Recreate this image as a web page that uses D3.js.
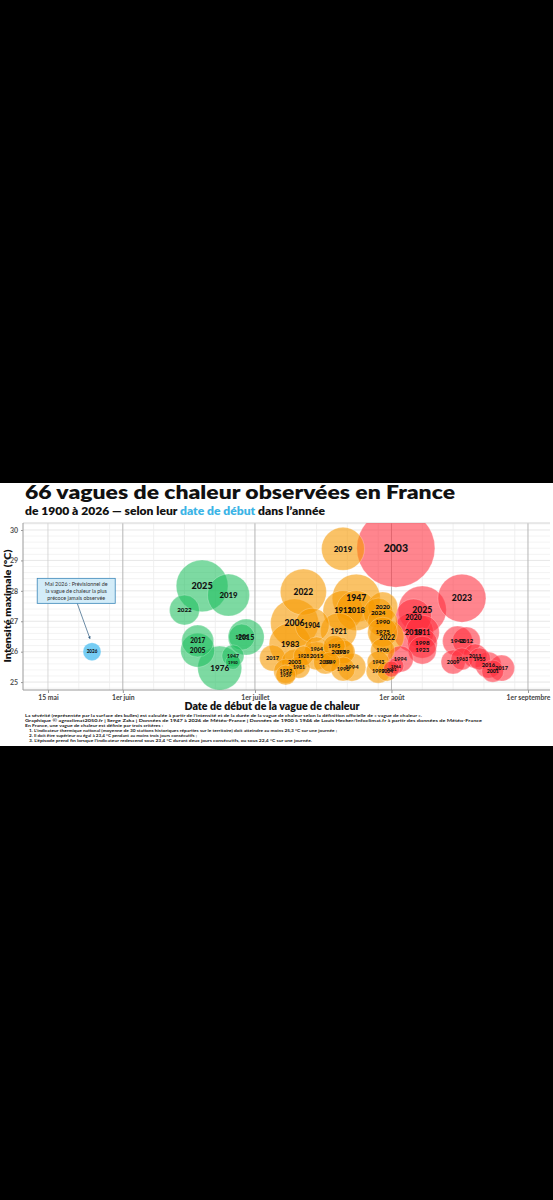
<!DOCTYPE html>
<html><head><meta charset="utf-8">
<script src="https://cdn.jsdelivr.net/npm/d3@7"></script>
<style>body{margin:0;background:#000;} svg{display:block;font-family:Lato,"DejaVu Sans",sans-serif}</style>
</head><body>
<svg id="c" width="553" height="1200"></svg>
<script>
// ---- data ----
const years = ["2026",
 "2025","2019","2022","2017","2005","1976","1947","1950","2015","1935",
 "2019","2022","2006","1904","1983","2017","2003","1928","2015","1964","1981","1952","1959","1995","2013","1989","2010","1949","1990","1994","1921","1947","1911","2018","2020","2024","1990","1975","2022","1906","1943","1999","2004",
 "2003","2025","2020","2023","2018","1911","1998","1923","1994","1964","2001","1942","2012","2009","1963","2011","1955","2016","2001","2017"];
const dates = ["05-25",
 "06-19","06-25","06-15","06-18","06-18","06-23","06-26","06-26","06-29","06-28",
 "07-21","07-12","07-10","07-14","07-09","07-05","07-10","07-12","07-15","07-15","07-11","07-08","07-08","07-19","07-20","07-21","07-17","07-18","07-21","07-23","07-20","07-24","07-21","07-24","07-30","07-29","07-30","07-30","07-31","07-30","07-29","07-29","07-31",
 "08-02","08-08","08-06","08-17","08-06","08-08","08-08","08-08","08-03","08-02","08-01","08-16","08-18","08-15","08-17","08-20","08-21","08-23","08-24","08-26"];
const intensities = [26.0,
 28.16,27.86,27.37,26.35,26.05,25.46,25.86,25.66,26.48,26.48,
 29.38,27.96,26.94,26.87,26.25,25.79,25.66,25.86,25.86,26.09,25.49,25.36,25.23,26.18,25.99,25.99,25.66,25.66,25.43,25.49,26.68,27.76,27.35,27.35,27.47,27.27,26.97,26.64,26.48,26.05,25.66,25.36,25.36,
 29.40,27.37,27.14,27.76,26.64,26.64,26.28,26.05,25.76,25.53,25.43,26.35,26.35,25.66,25.76,25.86,25.76,25.56,25.36,25.46];
const severities = [5.3,
 44,29,14.8,16.8,19,31.8,8,3.6,21.3,11.1,
 30.4,34.8,37.9,19,29,11.1,11.1,6.6,12.9,9.5,8,9.5,6.6,8,14.8,9.5,9.5,6.6,9.5,12.9,21.3,37.9,26.3,26.3,14.8,14.8,14.8,14.8,19,9.5,8,9.5,6.6,
 100,37.9,21.3,37.9,26.3,19,14.8,12.9,11.1,4.2,4.2,14.8,12.9,9.5,8,9.5,8,11.1,8,11.1];
const monthColors = {"05":"#5ec4f2","06":"#1fbf5f","07":"#f79a00","08":"#ff2d3c"};
const xTickDates = ["05-15","06-01","07-01","08-01","09-01"];
const xTickLabels = ["15 mai","1er juin","1er juillet","1er août","1er septembre"];
const yTicks = [25,26,27,28,29,30];
const footer = [
 "La sévérité (représentée par la surface des bulles) est calculée à partir de l’intensité et de la durée de la vague de chaleur selon la définition officielle de « vague de chaleur ».",
 "Graphique © agroclimat2050.fr | Serge Zaka | Données de 1947 à 2026 de Météo-France | Données de 1900 à 1946 de Louis Hecker/Infoclimat.fr à partir des données de Météo-France",
 "En France, une vague de chaleur est définie par trois critères :",
 "1. L’indicateur thermique national (moyenne de 30 stations historiques réparties sur le territoire) doit atteindre au moins 25,3 °C sur une journée ;",
 "2. Il doit être supérieur ou égal à 23,4 °C pendant au moins trois jours consécutifs ;",
 "3. L’épisode prend fin lorsque l’indicateur redescend sous 23,4 °C durant deux jours consécutifs, ou sous 22,4 °C sur une journée."];
const footerWidths = [397,457,138,308,168,283];

// ---- layout ----
const parse = s => d3.timeParse("%Y-%m-%d")("2001-" + s);
const svg = d3.select("#c");
const L = 23, R = 550, T = 523, B = 690;
svg.append("rect").attr("x",0).attr("y",483).attr("width",553).attr("height",263).attr("fill","#fff");

const x = d3.scaleTime().domain([new Date(2001,4,9,8), new Date(2001,8,6)]).range([L,R]);
const y = d3.scaleLinear().domain([24.74,30.23]).range([B,T]);
const r = d3.scaleSqrt().domain([0,100]).range([0,39]);

svg.append("clipPath").attr("id","pc").append("rect").attr("x",L).attr("y",T).attr("width",R-L).attr("height",B-T);

// grid
const g = svg.append("g");
const minorY = d3.range(24.8, 30.21, 0.2);
g.selectAll(".hy").data(minorY).join("line").attr("x1",L).attr("x2",R)
 .attr("y1",d=>y(d)).attr("y2",d=>y(d)).attr("stroke",d=>Math.abs(d-Math.round(d))<0.01?"#dcdcdc":"#efefef").attr("stroke-width",0.7);
const minorX = [];
["05","06","07","08","09"].forEach(m=>[8,15,22,29].forEach(dd=>{const dt=parse(m+"-"+String(dd).padStart(2,"0")); if(dt>x.domain()[0]&&dt<x.domain()[1]) minorX.push(dt);}));
g.selectAll(".vx").data(minorX).join("line").attr("y1",T).attr("y2",B)
 .attr("x1",d=>x(d)).attr("x2",d=>x(d)).attr("stroke",d=>(d.getMonth()==4&&d.getDate()==15)?"#cfcfcf":"#ececec").attr("stroke-width",0.8);
const monthLines = ["06-01","07-01","08-01","09-01"].map(parse);
g.selectAll(".mx").data(monthLines).join("line").attr("y1",T).attr("y2",B)
 .attr("x1",d=>x(d)).attr("x2",d=>x(d)).attr("stroke","#b5b5b5").attr("stroke-width",1);
g.append("line").attr("x1",L).attr("x2",R).attr("y1",T).attr("y2",T).attr("stroke","#d5d5d5");
g.append("line").attr("x1",L).attr("x2",L).attr("y1",T).attr("y2",B).attr("stroke","#9a9a9a");
g.append("line").attr("x1",L).attr("x2",R).attr("y1",B).attr("y2",B).attr("stroke","#9a9a9a");

// axes
const xAxis = d3.axisBottom(x).tickValues(xTickDates.map(parse)).tickFormat((d,i)=>xTickLabels[i]).tickSize(3);
const ax = svg.append("g").attr("transform",`translate(0,${B})`).call(xAxis);
ax.select(".domain").remove();
ax.selectAll("line").attr("stroke","#999");
ax.selectAll("text").attr("font-size",6.8).attr("font-weight",700).attr("fill","#444").attr("font-family","Lato").attr("dy","0.55em");
const yAxis = d3.axisLeft(y).tickValues(yTicks).tickFormat(d3.format("d")).tickSize(2);
const ay = svg.append("g").attr("transform",`translate(${L},0)`).call(yAxis);
ay.select(".domain").remove();
ay.selectAll("line").attr("stroke","#999");
ay.selectAll("text").attr("font-size",7).attr("font-weight",700).attr("fill","#555").attr("font-family","Lato");

// bubbles
const data = years.map((yr,i)=>({yr, d:parse(dates[i]), m:dates[i].slice(0,2), v:intensities[i], s:severities[i]}));
const sorted = data.slice().sort((a,b)=>b.s-a.s);
const bg = svg.append("g").attr("clip-path","url(#pc)");
bg.selectAll("circle").data(sorted).join("circle")
 .attr("cx",d=>x(d.d)).attr("cy",d=>y(d.v)).attr("r",d=>r(d.s))
 .attr("fill",d=>monthColors[d.m]).attr("fill-opacity",d=>d.m=="05"?0.85:(d.m=="07"?0.6:0.58))
 .attr("stroke","#fff").attr("stroke-opacity",0.35).attr("stroke-width",0.7);
bg.selectAll("text").data(sorted).join("text")
 .attr("x",d=>x(d.d)).attr("y",d=>y(d.v)).attr("text-anchor","middle").attr("dy","0.36em")
 .attr("font-size",d=>Math.min(0.27*r(d.s)+2.2,10.5)).attr("font-weight",900).attr("fill","#111")
 .text(d=>d.yr);

// annotation
const ax0 = x(new Date(2001,4,21,10)), ay0 = y(28.0);
svg.append("defs").append("marker").attr("id","ah").attr("viewBox","0 0 6 6").attr("refX",5).attr("refY",3)
 .attr("markerWidth",4).attr("markerHeight",4).attr("orient","auto")
 .append("path").attr("d","M0,0L6,3L0,6Z").attr("fill","#2d5a80");
const b26 = data[0];
svg.append("line").attr("x1",ax0+1).attr("y1",ay0+12.5).attr("x2",x(b26.d)-2).attr("y2",y(b26.v)-r(b26.s)-4)
 .attr("stroke","#2d5a80").attr("stroke-width",0.7).attr("marker-end","url(#ah)");
svg.append("rect").attr("x",ax0-39).attr("y",ay0-12.5).attr("width",78).attr("height",25)
 .attr("fill","#d3ecf8").attr("stroke","#3a86b8").attr("stroke-width",0.8);
["Mai 2026 : Prévisionnel de","la vague de chaleur la plus","précoce jamais observée"].forEach((t,i)=>
 svg.append("text").attr("x",ax0).attr("y",ay0-5+i*7).attr("text-anchor","middle").attr("font-size",5.4)
  .attr("fill","#333").text(t));

// titles
svg.append("text").attr("x",25).attr("y",499).attr("font-size",18).attr("font-weight",800).attr("fill","#111")
 .attr("textLength",430).attr("lengthAdjust","spacingAndGlyphs").text("66 vagues de chaleur observées en France");
const st = svg.append("text").attr("x",25).attr("y",514.5).attr("font-size",10.5).attr("font-weight",800).attr("fill","#111")
 .attr("textLength",300).attr("lengthAdjust","spacingAndGlyphs");
st.append("tspan").text("de 1900 à 2026 — selon leur ");
st.append("tspan").attr("fill","#3cb4e6").text("date de début");
st.append("tspan").text(" dans l’année");

svg.append("text").attr("transform","translate(11,606) rotate(-90)").attr("text-anchor","middle")
 .attr("font-size",10).attr("font-weight",800).attr("fill","#111")
 .attr("textLength",113).attr("lengthAdjust","spacingAndGlyphs").text("Intensité maximale (°C)");
svg.append("text").attr("x",272).attr("y",710).attr("text-anchor","middle")
 .attr("font-size",10.5).attr("font-weight",800).attr("fill","#111")
 .attr("textLength",175).attr("lengthAdjust","spacingAndGlyphs").text("Date de début de la vague de chaleur");

footer.forEach((t,i)=>svg.append("text").attr("x",i>=3?29:25).attr("y",717+i*5)
 .attr("font-size",4.4).attr("font-weight",700).attr("fill","#222")
 .attr("textLength",footerWidths[i]).attr("lengthAdjust","spacingAndGlyphs").text(t));
</script>
</body></html>
